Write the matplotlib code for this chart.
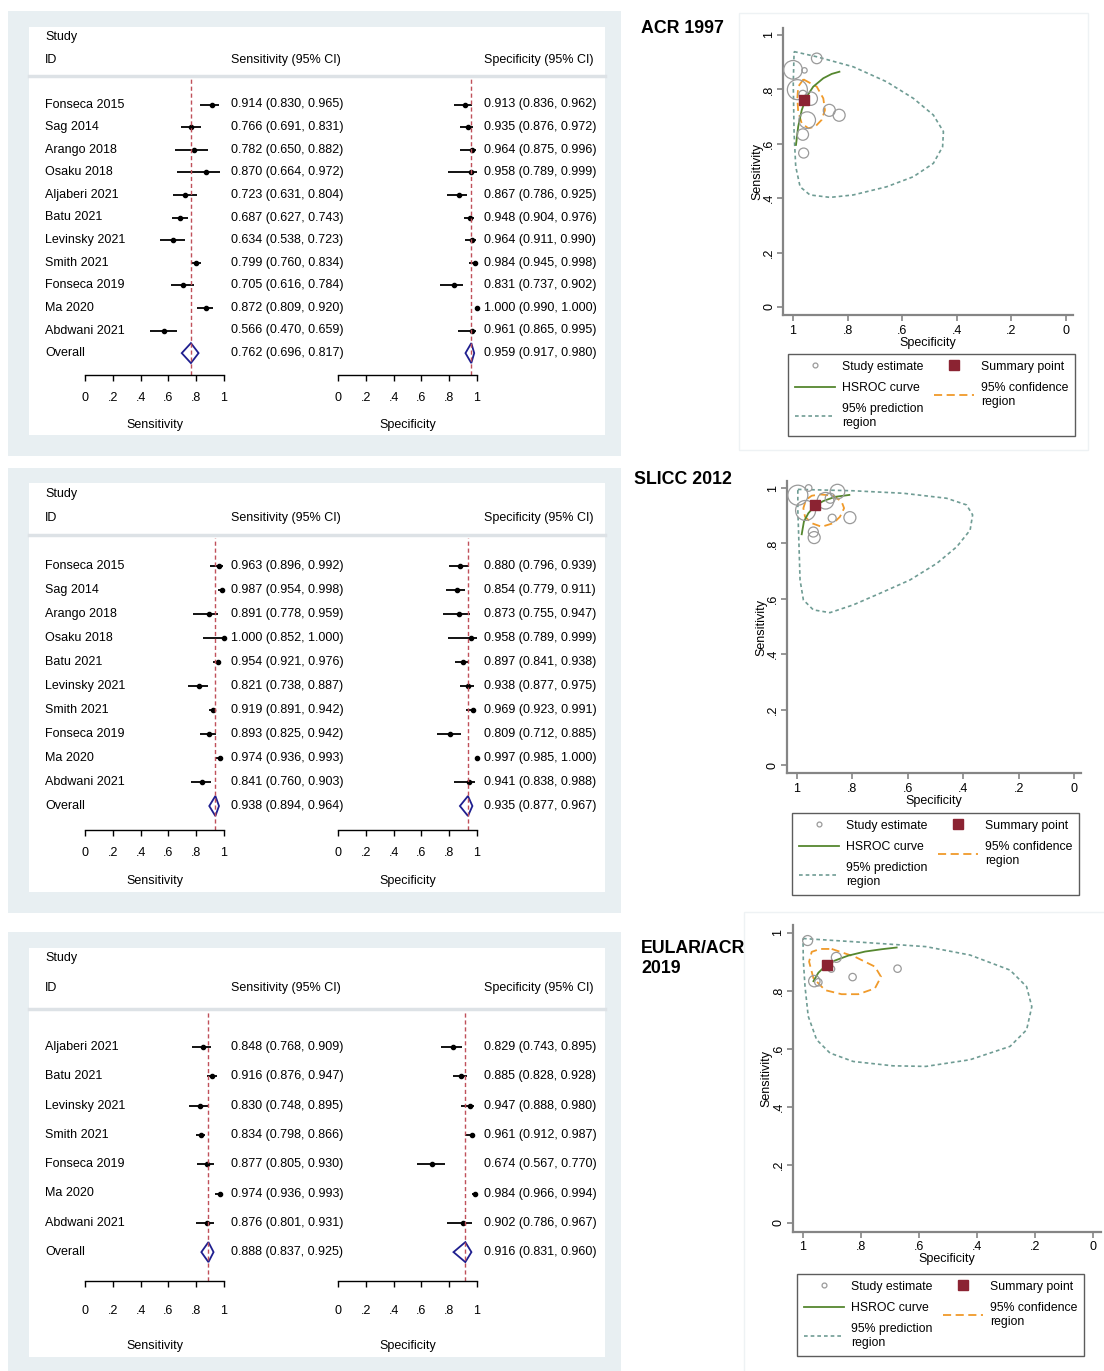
import matplotlib
matplotlib.use("Agg")
import matplotlib.pyplot as plt
import matplotlib.transforms as mtransforms
from matplotlib.lines import Line2D
from matplotlib.patches import Polygon, Rectangle

plt.rcParams["font.family"] = ["Liberation Sans", "DejaVu Sans"]

W, H = 1104, 1371

# ---------------- forest plot data ----------------
ACR_STUDIES = ["Fonseca 2015", "Sag 2014", "Arango 2018", "Osaku 2018", "Aljaberi 2021", "Batu 2021",
               "Levinsky 2021", "Smith 2021", "Fonseca 2019", "Ma 2020", "Abdwani 2021"]
ACR_SENS = [0.914, 0.766, 0.782, 0.870, 0.723, 0.687, 0.634, 0.799, 0.705, 0.872, 0.566]
ACR_SENS_LO = [0.830, 0.691, 0.650, 0.664, 0.631, 0.627, 0.538, 0.760, 0.616, 0.809, 0.470]
ACR_SENS_HI = [0.965, 0.831, 0.882, 0.972, 0.804, 0.743, 0.723, 0.834, 0.784, 0.920, 0.659]
ACR_SPEC = [0.913, 0.935, 0.964, 0.958, 0.867, 0.948, 0.964, 0.984, 0.831, 1.000, 0.961]
ACR_SPEC_LO = [0.836, 0.876, 0.875, 0.789, 0.786, 0.904, 0.911, 0.945, 0.737, 0.990, 0.865]
ACR_SPEC_HI = [0.962, 0.972, 0.996, 0.999, 0.925, 0.976, 0.990, 0.998, 0.902, 1.000, 0.995]
ACR_ALL_SENS = [0.762, 0.696, 0.817]
ACR_ALL_SPEC = [0.959, 0.917, 0.980]

SLICC_STUDIES = ["Fonseca 2015", "Sag 2014", "Arango 2018", "Osaku 2018", "Batu 2021", "Levinsky 2021",
                 "Smith 2021", "Fonseca 2019", "Ma 2020", "Abdwani 2021"]
SLICC_SENS = [0.963, 0.987, 0.891, 1.000, 0.954, 0.821, 0.919, 0.893, 0.974, 0.841]
SLICC_SENS_LO = [0.896, 0.954, 0.778, 0.852, 0.921, 0.738, 0.891, 0.825, 0.936, 0.760]
SLICC_SENS_HI = [0.992, 0.998, 0.959, 1.000, 0.976, 0.887, 0.942, 0.942, 0.993, 0.903]
SLICC_SPEC = [0.880, 0.854, 0.873, 0.958, 0.897, 0.938, 0.969, 0.809, 0.997, 0.941]
SLICC_SPEC_LO = [0.796, 0.779, 0.755, 0.789, 0.841, 0.877, 0.923, 0.712, 0.985, 0.838]
SLICC_SPEC_HI = [0.939, 0.911, 0.947, 0.999, 0.938, 0.975, 0.991, 0.885, 1.000, 0.988]
SLICC_ALL_SENS = [0.938, 0.894, 0.964]
SLICC_ALL_SPEC = [0.935, 0.877, 0.967]

EULAR_STUDIES = ["Aljaberi 2021", "Batu 2021", "Levinsky 2021", "Smith 2021", "Fonseca 2019", "Ma 2020",
                 "Abdwani 2021"]
EULAR_SENS = [0.848, 0.916, 0.830, 0.834, 0.877, 0.974, 0.876]
EULAR_SENS_LO = [0.768, 0.876, 0.748, 0.798, 0.805, 0.936, 0.801]
EULAR_SENS_HI = [0.909, 0.947, 0.895, 0.866, 0.930, 0.993, 0.931]
EULAR_SPEC = [0.829, 0.885, 0.947, 0.961, 0.674, 0.984, 0.902]
EULAR_SPEC_LO = [0.743, 0.828, 0.888, 0.912, 0.567, 0.966, 0.786]
EULAR_SPEC_HI = [0.895, 0.928, 0.980, 0.987, 0.770, 0.994, 0.967]
EULAR_ALL_SENS = [0.888, 0.837, 0.925]
EULAR_ALL_SPEC = [0.916, 0.831, 0.960]

# ---------------- SROC data ----------------
ACR_RADII = [5.3, 6.7, 4.0, 2.7, 6.0, 8.3, 5.7, 10.0, 6.0, 9.3, 5.0]
ACR_HS_SPEC = [0.989, 0.981, 0.968, 0.950, 0.926, 0.889, 0.858, 0.830]
ACR_HS_SENS = [0.596, 0.663, 0.724, 0.773, 0.810, 0.841, 0.857, 0.865]
ACR_CF_SPEC = [0.962, 0.913, 0.889, 0.883, 0.895, 0.919, 0.944, 0.968, 0.981, 0.984, 0.981, 0.962]
ACR_CF_SENS = [0.837, 0.810, 0.767, 0.724, 0.688, 0.663, 0.657, 0.675, 0.718, 0.767, 0.810, 0.837]
ACR_PR_SPEC = [0.996, 0.913, 0.779, 0.657, 0.559, 0.486, 0.449, 0.452, 0.486, 0.559, 0.657, 0.779,
               0.864, 0.938, 0.974, 0.990, 0.996, 0.999, 0.996]
ACR_PR_SENS = [0.939, 0.920, 0.883, 0.828, 0.767, 0.706, 0.645, 0.589, 0.528, 0.479, 0.442, 0.412,
               0.403, 0.412, 0.442, 0.516, 0.639, 0.822, 0.939]

SLICC_RADII = [5.0, 7.3, 4.0, 3.3, 8.3, 6.0, 10.0, 6.0, 10.0, 5.0]
SLICC_HS_SPEC = [0.983, 0.975, 0.959, 0.935, 0.905, 0.863, 0.811]
SLICC_HS_SENS = [0.833, 0.879, 0.909, 0.936, 0.953, 0.968, 0.975]
SLICC_CF_SPEC = [0.917, 0.869, 0.839, 0.830, 0.845, 0.869, 0.911, 0.947, 0.971, 0.977, 0.968, 0.947, 0.917]
SLICC_CF_SENS = [0.977, 0.972, 0.951, 0.927, 0.896, 0.873, 0.860, 0.873, 0.896, 0.927, 0.957, 0.972, 0.977]
SLICC_PR_SPEC = [0.997, 0.797, 0.616, 0.460, 0.388, 0.366, 0.375, 0.423, 0.495, 0.592, 0.700, 0.797,
                 0.881, 0.941, 0.977, 0.989, 0.993, 0.997, 0.997]
SLICC_PR_SENS = [0.995, 0.990, 0.981, 0.963, 0.939, 0.903, 0.848, 0.788, 0.728, 0.668, 0.620, 0.578,
                 0.550, 0.560, 0.596, 0.668, 0.800, 0.921, 0.995]

EULAR_RADII = [3.7, 5.0, 3.7, 5.7, 3.7, 5.0, 3.3]
EULAR_HS_SPEC = [0.964, 0.947, 0.924, 0.890, 0.844, 0.786, 0.729, 0.677]
EULAR_HS_SENS = [0.834, 0.863, 0.885, 0.905, 0.922, 0.936, 0.944, 0.950]
EULAR_CF_SPEC = [0.901, 0.821, 0.752, 0.731, 0.752, 0.809, 0.867, 0.924, 0.964, 0.979, 0.970, 0.941, 0.901]
EULAR_CF_SENS = [0.945, 0.918, 0.884, 0.849, 0.809, 0.789, 0.789, 0.803, 0.844, 0.901, 0.935, 0.945, 0.945]
EULAR_PR_SPEC = [1.000, 0.827, 0.576, 0.424, 0.286, 0.229, 0.211, 0.229, 0.286, 0.424, 0.576, 0.690,
                 0.827, 0.907, 0.953, 0.982, 0.993, 0.999, 1.000]
EULAR_PR_SENS = [0.981, 0.970, 0.953, 0.924, 0.872, 0.815, 0.746, 0.666, 0.609, 0.563, 0.540, 0.542,
                 0.557, 0.586, 0.632, 0.713, 0.815, 0.907, 0.981]

TICKS = [0, 0.2, 0.4, 0.6, 0.8, 1]
TICK_LABELS = ["0", ".2", ".4", ".6", ".8", "1"]

# ---------------- style ----------------
BG = "#e8eff2"
SEP = "#dde2e6"
NAVY = "#1f1f8f"
REFRED = "#c0505a"
CIRCLE = "#9a9a9a"
SUMRED = "#8b2332"
GREEN = "#55872f"
ORANGE = "#f09a2a"
TEAL = "#6f9c94"
AXGRAY = "#858585"
FS = 9

fig = plt.figure(figsize=(W / 100, H / 100), dpi=100)


def fx(x):
    return x / W


def fy(y):
    return 1 - y / H


def px_rect(x0, y0, x1, y1):
    return [fx(x0), fy(y1), (x1 - x0) / W, (y1 - y0) / H]


def forest(lay, names, se, se_lo, se_hi, sp, sp_lo, sp_hi, se_all, sp_all):
    ox0, oy0, ox1, oy1 = lay["outer"]
    fig.patches.append(Rectangle((fx(ox0), fy(oy1)), (ox1 - ox0) / W, (oy1 - oy0) / H,
                                 transform=fig.transFigure, facecolor=BG, edgecolor="none", zorder=-20))
    ix0, iy0, ix1, iy1 = lay["inner"]
    fig.patches.append(Rectangle((fx(ix0), fy(iy1)), (ix1 - ix0) / W, (iy1 - iy0) / H,
                                 transform=fig.transFigure, facecolor="white", edgecolor="none", zorder=-10))
    fig.add_artist(Line2D([fx(ix0), fx(ix1)], [fy(lay["sep"])] * 2, color=SEP, lw=2.5, zorder=-5))
    fig.text(fx(45), fy(lay["study"]), "Study", fontsize=FS, va="center")
    fig.text(fx(45), fy(lay["id"]), "ID", fontsize=FS, va="center")
    fig.text(fx(231), fy(lay["id"]), "Sensitivity (95% CI)", fontsize=FS, va="center")
    fig.text(fx(484), fy(lay["id"]), "Specificity (95% CI)", fontsize=FS, va="center")

    n = len(names)
    rows = list(range(n))
    step = lay["step"]
    ytop = lay["sep"] + 3
    ybot = lay["axis"]
    r_top = (ytop - lay["first"]) / step
    r_bot = (ybot - lay["first"]) / step
    half = 10 / step

    cols = [((85, 224), se, se_lo, se_hi, se_all, 231, "Sensitivity"),
            ((338, 477), sp, sp_lo, sp_hi, sp_all, 484, "Specificity")]
    for k, ((x0, x1), est, lo, hi, tot, tx, title) in enumerate(cols):
        ax = fig.add_axes(px_rect(x0, ytop, x1, ybot))
        ax.set_xlim(0, 1)
        ax.set_ylim(r_bot, r_top)
        ax.patch.set_visible(False)
        ax.hlines(rows, lo, hi, color="black", lw=1.3, clip_on=False)
        ax.plot(est, rows, "o", color="black", ms=3, clip_on=False)
        e, l, h = tot
        ax.add_patch(Polygon([[l, n], [e, n - half], [h, n], [e, n + half]], closed=True,
                             fill=False, edgecolor=NAVY, lw=1.3, clip_on=False))
        ax.axvline(e, color=REFRED, ls=(0, (3, 2)), lw=1)
        tr = mtransforms.blended_transform_factory(fig.transFigure, ax.transData)
        for i in rows:
            ax.text(fx(tx), i, f"{est[i]:.3f} ({lo[i]:.3f}, {hi[i]:.3f})", transform=tr,
                    fontsize=FS, va="center")
            if k == 0:
                ax.text(fx(45), i, names[i], transform=tr, fontsize=FS, va="center")
        ax.text(fx(tx), n, f"{e:.3f} ({l:.3f}, {h:.3f})", transform=tr, fontsize=FS, va="center")
        if k == 0:
            ax.text(fx(45), n, "Overall", transform=tr, fontsize=FS, va="center")
        for s in ("top", "left", "right"):
            ax.spines[s].set_visible(False)
        ax.spines["bottom"].set_linewidth(1)
        ax.set_yticks([])
        ax.set_xticks(TICKS)
        ax.set_xticklabels(TICK_LABELS)
        ax.tick_params(axis="x", direction="out", length=4, width=1, pad=lay["pad"], labelsize=FS)
        ax.set_xlabel(title, fontsize=FS, labelpad=lay["labelpad"])


XL = (1.035, -0.026)
YL = (-0.03, 1.026)


def sroc(lay, title, sp, se, radii, hs_sp, hs_se, cf_sp, cf_se, pr_sp, pr_se, sp_all, se_all):
    x1p, x0p, y1p, y0p = lay["one_zero"]
    ux = x0p - x1p
    uy = y0p - y1p
    left = x1p - (XL[0] - 1) * ux
    right = x0p + (0 - XL[1]) * ux
    top = y1p - (YL[1] - 1) * uy
    bottom = y0p + (0 - YL[0]) * uy
    if "frame" in lay:
        a, b, c, d = lay["frame"]
        fig.patches.append(Rectangle((fx(a), fy(d)), (c - a) / W, (d - b) / H, transform=fig.transFigure,
                                     facecolor="none", edgecolor="#eef2f4", lw=1.0, zorder=-20))
    ax = fig.add_axes(px_rect(left, top, right, bottom))
    ax.set_xlim(*XL)
    ax.set_ylim(*YL)
    ax.patch.set_visible(False)
    ax.plot(pr_sp, pr_se, color=TEAL, lw=1.2, ls=(0, (2.2, 1.8)))
    ax.plot(cf_sp, cf_se, color=ORANGE, lw=1.3, ls=(0, (4.5, 2.5)))
    ax.plot(hs_sp, hs_se, color=GREEN, lw=1.3)
    ax.scatter(sp, se, s=[(2 * r * 0.72) ** 2 for r in radii], facecolors="none",
               edgecolors=CIRCLE, linewidths=0.9, zorder=3)
    ax.plot([sp_all[0]], [se_all[0]], "s", color=SUMRED, ms=6.5, zorder=4)

    for s in ("top", "right"):
        ax.spines[s].set_visible(False)
    for s in ("left", "bottom"):
        ax.spines[s].set_color(AXGRAY)
        ax.spines[s].set_linewidth(1.6)
    ax.set_xticks(TICKS)
    ax.set_xticklabels(TICK_LABELS)
    ax.set_yticks(TICKS)
    ax.set_yticklabels(TICK_LABELS, rotation=90, va="center")
    ax.tick_params(direction="out", length=4, width=1.2, color=AXGRAY, labelsize=FS)
    ax.tick_params(axis="y", pad=2)
    ax.tick_params(axis="x", pad=3)
    ax.set_xlabel("Specificity", fontsize=FS, labelpad=0)
    ax.set_ylabel("Sensitivity", fontsize=FS, labelpad=0)

    tx, ty = lay["title"]
    fig.text(fx(tx), fy(ty), title, fontsize=12.8, fontweight="bold", va="top", linespacing=1.25)

    handles = [Line2D([], [], ls="none", marker="o", ms=3.5, mfc="none", mec=CIRCLE, mew=0.9),
               Line2D([], [], color=GREEN, lw=1.3),
               Line2D([], [], color=TEAL, lw=1.2, ls=(0, (2.2, 1.8))),
               Line2D([], [], ls="none", marker="s", ms=7, color=SUMRED),
               Line2D([], [], color=ORANGE, lw=1.3, ls=(0, (4.5, 2.5)))]
    labels = ["Study estimate", "HSROC curve", "95% prediction\nregion", "Summary point",
              "95% confidence\nregion"]
    lx, ly = lay["legend"]
    leg = ax.legend(handles, labels, ncol=2, loc="upper left", bbox_to_anchor=(fx(lx), fy(ly)),
                    bbox_transform=fig.transFigure, fontsize=8.8, frameon=True, fancybox=False,
                    handlelength=3.3, handletextpad=0.6, columnspacing=0.8, borderpad=0.55,
                    labelspacing=0.75, borderaxespad=0)
    leg.get_frame().set_edgecolor("#333333")
    leg.get_frame().set_linewidth(1.0)


LAY_F1 = dict(outer=(8, 11, 621, 456), inner=(29, 27, 605, 435), study=37, id=60, sep=76,
              first=104.5, step=22.6, axis=375, pad=8, labelpad=11)
LAY_F2 = dict(outer=(8, 468, 621, 913), inner=(29, 483, 605, 892), study=494, id=518, sep=535,
              first=566, step=24.0, axis=830, pad=8.5, labelpad=11.5)
LAY_F3 = dict(outer=(8, 932, 621, 1371), inner=(29, 948, 605, 1357), study=958, id=988, sep=1009,
              first=1047, step=29.3, axis=1281, pad=13, labelpad=16.5)

forest(LAY_F1, ACR_STUDIES, ACR_SENS, ACR_SENS_LO, ACR_SENS_HI, ACR_SPEC, ACR_SPEC_LO, ACR_SPEC_HI,
       ACR_ALL_SENS, ACR_ALL_SPEC)
forest(LAY_F2, SLICC_STUDIES, SLICC_SENS, SLICC_SENS_LO, SLICC_SENS_HI, SLICC_SPEC, SLICC_SPEC_LO,
       SLICC_SPEC_HI, SLICC_ALL_SENS, SLICC_ALL_SPEC)
forest(LAY_F3, EULAR_STUDIES, EULAR_SENS, EULAR_SENS_LO, EULAR_SENS_HI, EULAR_SPEC, EULAR_SPEC_LO,
       EULAR_SPEC_HI, EULAR_ALL_SENS, EULAR_ALL_SPEC)

LAY_S1 = dict(one_zero=(793, 1066, 35, 307), title=(641, 20), legend=(788, 354), frame=(739, 13, 1088, 450))
LAY_S2 = dict(one_zero=(797, 1074, 488, 765), title=(634, 471), legend=(792, 813))
LAY_S3 = dict(one_zero=(803, 1093, 933, 1223), title=(641, 940), legend=(797, 1274),
              frame=(744, 912, 1110, 1380))

sroc(LAY_S1, "ACR 1997", ACR_SPEC, ACR_SENS, ACR_RADII, ACR_HS_SPEC, ACR_HS_SENS, ACR_CF_SPEC,
     ACR_CF_SENS, ACR_PR_SPEC, ACR_PR_SENS, ACR_ALL_SPEC, ACR_ALL_SENS)
sroc(LAY_S2, "SLICC 2012", SLICC_SPEC, SLICC_SENS, SLICC_RADII, SLICC_HS_SPEC, SLICC_HS_SENS,
     SLICC_CF_SPEC, SLICC_CF_SENS, SLICC_PR_SPEC, SLICC_PR_SENS, SLICC_ALL_SPEC, SLICC_ALL_SENS)
sroc(LAY_S3, "EULAR/ACR\n2019", EULAR_SPEC, EULAR_SENS, EULAR_RADII, EULAR_HS_SPEC, EULAR_HS_SENS,
     EULAR_CF_SPEC, EULAR_CF_SENS, EULAR_PR_SPEC, EULAR_PR_SENS, EULAR_ALL_SPEC, EULAR_ALL_SENS)

fig.savefig("out.png", dpi=100)
